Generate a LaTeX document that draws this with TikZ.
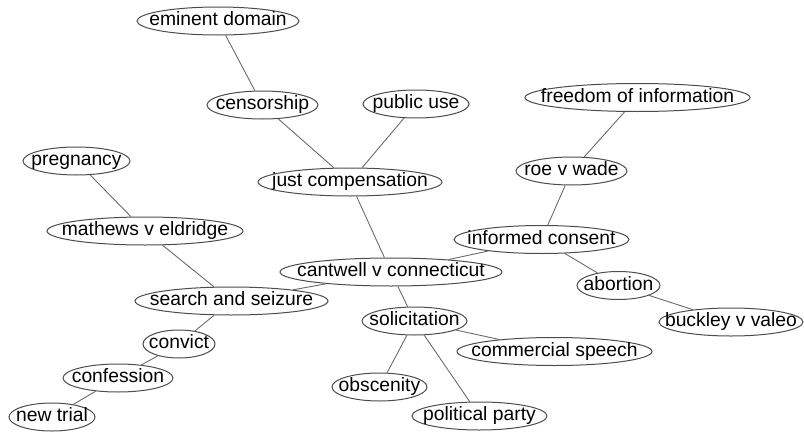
\documentclass[tikz,border=0pt]{standalone}
\usepackage{fontspec}
\setmainfont{Liberation Sans}
\usetikzlibrary{shapes.geometric}
\tikzset{
  term/.style={ellipse, draw=black!70, line width=1pt, inner sep=0pt,
    minimum height=28pt, minimum width=#1, fill=white,
    font=\fontsize{19.3}{23}\selectfont, text height=13.5pt, text depth=4.5pt},
  link/.style={draw=black!58, line width=0.9pt}
}
\newcommand{\tlabel}[1]{\makebox[0pt]{#1}}
\begin{document}
\begin{tikzpicture}[x=1pt,y=-1pt]
  \useasboundingbox (0,0) rectangle (804,434);
  % terms
  \node[term=162pt] (ed)   at (218,21)    {\tlabel{eminent domain}};
  \node[term=111pt] (cen)  at (262.5,105) {\tlabel{censorship}};
  \node[term=106pt] (pu)   at (416,104)   {\tlabel{public use}};
  \node[term=225pt] (foi)  at (637.5,97.5){\tlabel{freedom of information}};
  \node[term=107pt] (preg) at (76.5,161)  {\tlabel{pregnancy}};
  \node[term=184pt] (jc)   at (350,182)   {\tlabel{just compensation}};
  \node[term=111pt] (roe)  at (571.5,171) {\tlabel{roe v wade}};
  \node[term=196pt] (mat)  at (145,231)   {\tlabel{mathews v eldridge}};
  \node[term=175pt] (ic)   at (541.5,239.5){\tlabel{informed consent}};
  \node[term=222pt] (cc)   at (391,272)   {\tlabel{cantwell v connecticut}};
  \node[term=83pt]  (abo)  at (618.5,285.5){\tlabel{abortion}};
  \node[term=193pt] (ss)   at (231.5,301) {\tlabel{search and seizure}};
  \node[term=144pt] (bv)   at (731,322)   {\tlabel{buckley v valeo}};
  \node[term=105pt] (sol)  at (414.5,321) {\tlabel{solicitation}};
  \node[term=72pt]  (con)  at (179,344)   {\tlabel{convict}};
  \node[term=195pt] (cs)   at (554.5,351.5){\tlabel{commercial speech}};
  \node[term=110pt] (conf) at (118,378)   {\tlabel{confession}};
  \node[term=95pt]  (obs)  at (379.5,387) {\tlabel{obscenity}};
  \node[term=86pt]  (nt)   at (52,417)    {\tlabel{new trial}};
  \node[term=135pt] (pp)   at (479.5,416) {\tlabel{political party}};
  % links
  \draw[link] (ed) -- (cen);
  \draw[link] (cen) -- (jc);
  \draw[link] (pu) -- (jc);
  \draw[link] (jc) -- (cc);
  \draw[link] (foi) -- (roe);
  \draw[link] (roe) -- (ic);
  \draw[link] (ic) -- (cc);
  \draw[link] (ic) -- (abo);
  \draw[link] (abo) -- (bv);
  \draw[link] (preg) -- (mat);
  \draw[link] (mat) -- (ss);
  \draw[link] (ss) -- (cc);
  \draw[link] (ss) -- (con);
  \draw[link] (con) -- (conf);
  \draw[link] (conf) -- (nt);
  \draw[link] (cc) -- (sol);
  \draw[link] (sol) -- (cs);
  \draw[link] (sol) -- (obs);
  \draw[link] (sol) -- (pp);
\end{tikzpicture}
\end{document}
